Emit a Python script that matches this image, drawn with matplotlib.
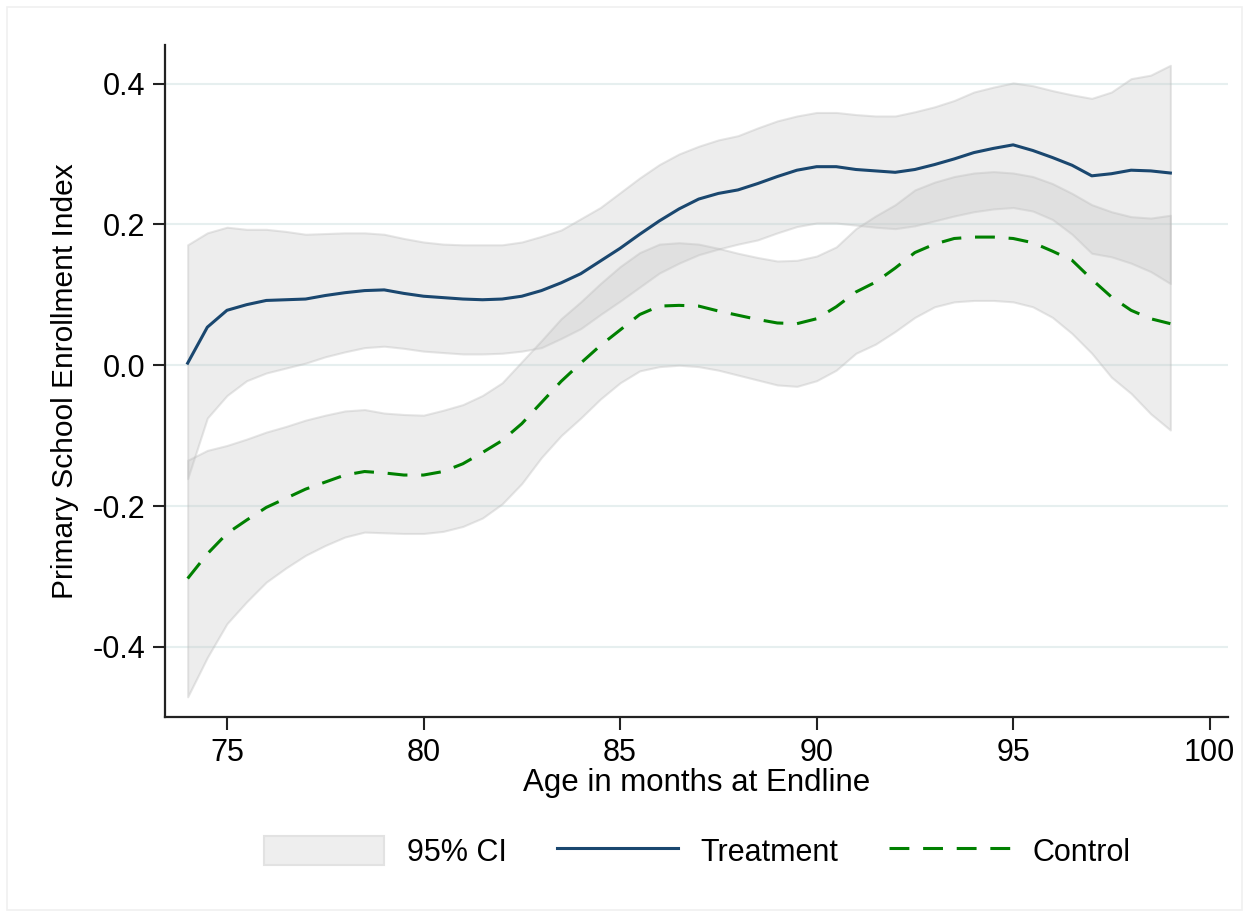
import matplotlib
matplotlib.use("Agg")
import matplotlib.pyplot as plt
import numpy as np
from matplotlib.patches import Patch, Rectangle
from matplotlib.lines import Line2D

plt.rcParams['font.family'] = ['Liberation Sans', 'DejaVu Sans']
plt.rcParams['axes.unicode_minus'] = False

# age grid (months at endline), half-month steps
age = np.arange(74, 99.01, 0.5)

treat = [0.003, 0.054, 0.078, 0.086, 0.092, 0.093, 0.094, 0.099, 0.103, 0.106,
         0.107, 0.102, 0.098, 0.096, 0.094, 0.093, 0.094, 0.098, 0.106, 0.117,
         0.130, 0.148, 0.166, 0.186, 0.205, 0.222, 0.236, 0.244, 0.249, 0.258,
         0.268, 0.277, 0.282, 0.282, 0.278, 0.276, 0.274, 0.278, 0.285, 0.293,
         0.302, 0.308, 0.313, 0.305, 0.295, 0.284, 0.269, 0.272, 0.277, 0.276,
         0.273]
treat_hi = [0.171, 0.188, 0.196, 0.193, 0.193, 0.190, 0.186, 0.187, 0.188, 0.188,
            0.186, 0.180, 0.175, 0.172, 0.171, 0.171, 0.171, 0.175, 0.183, 0.192,
            0.208, 0.224, 0.245, 0.266, 0.285, 0.300, 0.311, 0.320, 0.326, 0.337,
            0.347, 0.354, 0.359, 0.359, 0.356, 0.354, 0.354, 0.360, 0.367, 0.376,
            0.388, 0.395, 0.401, 0.397, 0.390, 0.384, 0.379, 0.388, 0.407, 0.412,
            0.426]
treat_lo = [-0.161, -0.075, -0.043, -0.022, -0.011, -0.004, 0.003, 0.012, 0.019, 0.025,
            0.027, 0.024, 0.020, 0.018, 0.016, 0.016, 0.017, 0.020, 0.025, 0.038,
            0.052, 0.072, 0.091, 0.111, 0.131, 0.145, 0.157, 0.165, 0.172, 0.178,
            0.188, 0.197, 0.202, 0.202, 0.199, 0.196, 0.194, 0.198, 0.205, 0.212,
            0.218, 0.222, 0.224, 0.219, 0.207, 0.186, 0.159, 0.154, 0.145, 0.133,
            0.116]

ctrl = [-0.303, -0.268, -0.239, -0.220, -0.202, -0.189, -0.176, -0.166, -0.156, -0.151,
        -0.153, -0.156, -0.156, -0.151, -0.140, -0.124, -0.107, -0.083, -0.053, -0.023,
        0.003, 0.028, 0.050, 0.072, 0.084, 0.085, 0.084, 0.077, 0.071, 0.065,
        0.060, 0.059, 0.066, 0.083, 0.104, 0.118, 0.138, 0.160, 0.172, 0.180,
        0.182, 0.182, 0.180, 0.174, 0.162, 0.149, 0.122, 0.097, 0.078, 0.066,
        0.059]
ctrl_hi = [-0.135, -0.121, -0.114, -0.105, -0.095, -0.087, -0.078, -0.071, -0.065, -0.063,
           -0.068, -0.070, -0.071, -0.064, -0.056, -0.043, -0.025, 0.005, 0.035, 0.066,
           0.090, 0.116, 0.140, 0.160, 0.172, 0.174, 0.172, 0.166, 0.159, 0.153,
           0.148, 0.149, 0.155, 0.168, 0.194, 0.212, 0.228, 0.249, 0.260, 0.268,
           0.273, 0.275, 0.273, 0.268, 0.258, 0.244, 0.228, 0.218, 0.211, 0.209,
           0.213]
ctrl_lo = [-0.471, -0.415, -0.367, -0.336, -0.308, -0.288, -0.270, -0.256, -0.244, -0.237,
           -0.238, -0.239, -0.239, -0.236, -0.229, -0.217, -0.197, -0.168, -0.131, -0.100,
           -0.075, -0.048, -0.025, -0.008, -0.002, 0.000, -0.002, -0.007, -0.014, -0.021,
           -0.028, -0.030, -0.022, -0.007, 0.017, 0.030, 0.048, 0.068, 0.083, 0.090,
           0.092, 0.092, 0.090, 0.083, 0.068, 0.045, 0.017, -0.017, -0.040, -0.069,
           -0.092]

yticks = [-0.4, -0.2, 0.0, 0.2, 0.4]
xticks = [75, 80, 85, 90, 95, 100]

ci_face = (0.77, 0.77, 0.77, 0.3)
ci_edge = (0.72, 0.72, 0.72, 0.35)
navy = '#1a476f'
green = '#008000'
dash = (0, (6.5, 4.5))

fig = plt.figure(figsize=(12.49, 9.16), dpi=100)
ax = fig.add_axes([0.132, 0.217, 0.851, 0.734])

# faint outer frame
fig.patches.append(Rectangle((0.006, 0.007), 0.988, 0.985, transform=fig.transFigure,
                             fill=False, edgecolor='#f0f0f0', linewidth=1.2))

for y in yticks:
    ax.axhline(y, color='#e6efef', linewidth=1.5, zorder=0)

ax.fill_between(age, treat_lo, treat_hi, facecolor=ci_face, edgecolor=ci_edge, linewidth=1.5, zorder=1)
ax.fill_between(age, ctrl_lo, ctrl_hi, facecolor=ci_face, edgecolor=ci_edge, linewidth=1.5, zorder=1)
ax.plot(age, treat, color=navy, linewidth=2.2, zorder=3)
ax.plot(age, ctrl, color=green, linewidth=2.2, linestyle=dash, zorder=3)

ax.set_xlim(73.42, 100.46)
ax.set_ylim(-0.5, 0.455)
ax.set_xticks(xticks)
ax.set_yticks(yticks)
ax.set_yticklabels(['%.1f' % v for v in yticks])
ax.tick_params(axis='both', direction='out', length=9, width=1.5, labelsize=22, color='#222222')
ax.tick_params(axis='y', pad=5)
ax.tick_params(axis='x', pad=6)

for side in ['top', 'right']:
    ax.spines[side].set_visible(False)
for side in ['left', 'bottom']:
    ax.spines[side].set_linewidth(1.6)
    ax.spines[side].set_color('#222222')

ax.set_xlabel('Age in months at Endline', fontsize=22.5, labelpad=0)
ax.set_ylabel('Primary School Enrollment Index', fontsize=21.5, labelpad=10)

handles = [Patch(facecolor='#eeeeee', edgecolor='#e2e2e2', linewidth=1.5),
           Line2D([], [], color=navy, linewidth=2.2),
           Line2D([], [], color=green, linewidth=2.2, linestyle=dash)]
fig.legend(handles, ['95% CI', 'Treatment', 'Control'], loc='center',
           bbox_to_anchor=(0.558, 0.070), ncol=3, frameon=False, fontsize=22,
           handlelength=3.95, handleheight=1.1, handletextpad=0.73, columnspacing=1.67)

fig.savefig('out.png', dpi=100, facecolor='white')
